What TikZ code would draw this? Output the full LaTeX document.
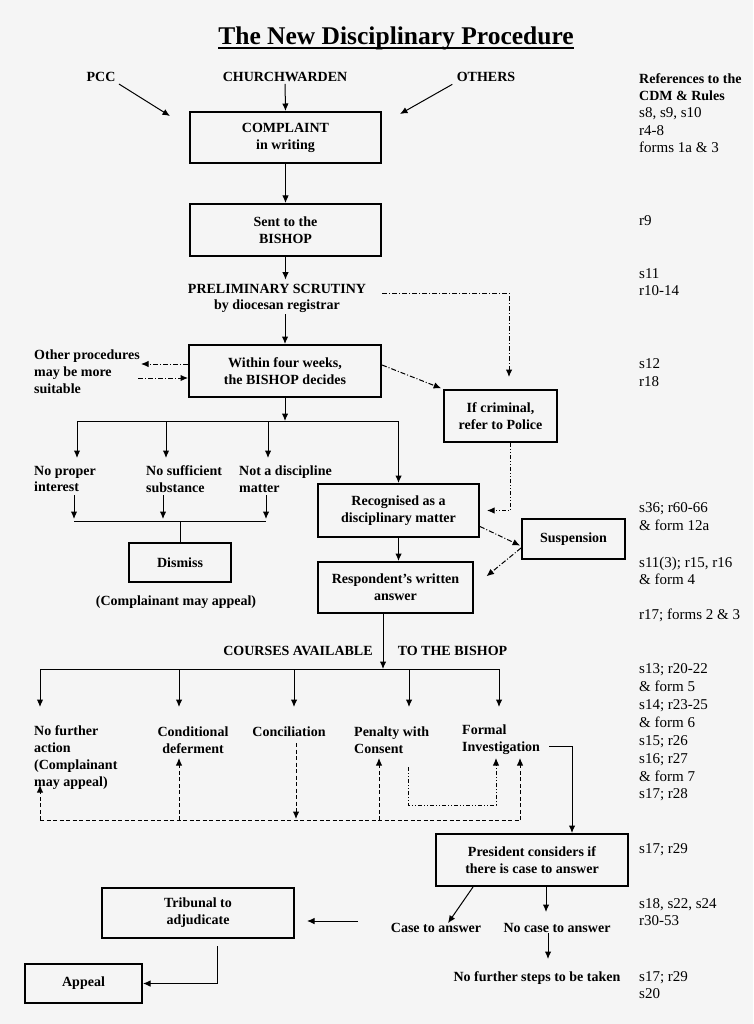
\documentclass[tikz,border=0pt]{standalone}
\usepackage{fontspec}
\setmainfont{Liberation Serif}
\usetikzlibrary{arrows.meta}

\begin{document}
\begin{tikzpicture}[x=1pt,y=-1pt,
    caja/.style={draw,line width=2pt,align=center,inner sep=0pt,font=\bfseries\fontsize{14}{17}\selectfont},
    etiq/.style={align=center,inner sep=0pt,font=\bfseries\fontsize{14}{16.8}\selectfont},
    refs/.style={anchor=west,align=left,inner sep=0pt,font=\fontsize{15}{17.4}\selectfont},
    linea/.style={line width=1pt},
    flecha/.style={linea,-{Latex[length=7.5pt,width=6.5pt]}},
    puntoraya/.style={linea,dash pattern=on 5pt off 2pt on 1pt off 2pt},
    puntopunto/.style={linea,dash pattern=on 4pt off 2pt on 1pt off 2pt on 1pt off 2pt},
    rayas/.style={linea,dash pattern=on 4pt off 2.5pt}]

    % Fondo
    \fill[black!4] (0,0) rectangle (753,1024);
    \useasboundingbox (0,0) rectangle (753,1024);

    % Titulo
    \node[inner sep=0pt,anchor=base,font=\bfseries\fontsize{25.5}{30}\selectfont] (titulo) at (396,45) {The New Disciplinary Procedure};
    \draw[line width=1.5pt] ([yshift=-3pt]titulo.base west) -- ([yshift=-3pt]titulo.base east);

    % Quien presenta la queja
    \node[etiq] (pcc) at (101,77) {PCC};
    \node[etiq] (church) at (285,77) {CHURCHWARDEN};
    \node[etiq] (otros) at (486,77) {OTHERS};

    % Cajas
    \node[caja,minimum width=191pt,minimum height=51pt] (queja) at (285.5,137.5) {COMPLAINT\\in writing};
    \node[caja,minimum width=191pt,minimum height=52pt] (obispo) at (285.5,230) {Sent to the\\BISHOP};
    \node[etiq,font=\bfseries\fontsize{14}{16}\selectfont] (escrutinio) at (277,298) {PRELIMINARY SCRUTINY\\by diocesan registrar};
    \node[caja,minimum width=192pt,minimum height=52pt] (decide) at (285,371) {Within four weeks,\\the BISHOP decides};
    \node[caja,minimum width=113pt,minimum height=52pt] (policia) at (500.5,416) {If criminal,\\refer to Police};
    \node[caja,minimum width=161pt,minimum height=53pt] (reconocido) at (398.5,510.5) {Recognised as a\\disciplinary matter};
    \node[caja,minimum width=103pt,minimum height=40pt] (suspension) at (573.5,539) {Suspension};
    \node[caja,minimum width=102pt,minimum height=39pt] (despedir) at (180,562.5) {Dismiss};
    \node[caja,minimum width=155pt,minimum height=51pt] (respuesta) at (395.5,587.5) {Respondent’s written\\answer};
    \node[caja,minimum width=192pt,minimum height=52pt] (presidente) at (532,860) {President considers if\\there is case to answer};
    \node[caja,minimum width=192pt,minimum height=50pt] (tribunal) at (198,913) {Tribunal to\\adjudicate};
    \node[caja,minimum width=117pt,minimum height=39pt] (apelacion) at (83.5,983.5) {Appeal};

    % Etiquetas
    \node[etiq,anchor=west,align=left] (otrosproc) at (34,372) {Other procedures\\may be more\\suitable};
    \node[etiq,anchor=west,align=left] (sininteres) at (34,479) {No proper\\interest};
    \node[etiq,anchor=west,align=left] (sinsustancia) at (146,479) {No sufficient\\substance};
    \node[etiq,anchor=west,align=left] (nodisciplina) at (239,479) {Not a discipline\\matter};
    \node[etiq] (apela1) at (176,602) {(Complainant may appeal)};
    \node[etiq] (cursos1) at (298,651) {COURSES AVAILABLE};
    \node[etiq] (cursos2) at (452.5,651) {TO THE BISHOP};
    \node[etiq,anchor=west,align=left] (sinaccion) at (34,757.5) {No further\\action\\(Complainant\\may appeal)};
    \node[etiq] (condicional) at (193,740) {Conditional\\deferment};
    \node[etiq] (conciliacion) at (289,732) {Conciliation};
    \node[etiq,anchor=west,align=left] (pena) at (354,740) {Penalty with\\Consent};
    \node[etiq,anchor=west,align=left] (formal) at (462,740) {Formal\\Investigation};
    \node[etiq] (caso) at (436,928) {Case to answer};
    \node[etiq] (nocaso) at (557,928) {No case to answer};
    \node[etiq] (nomas) at (537,978) {No further steps to be taken};

    % Referencias
    \node[refs] (ref1) at (639,113) {{\bfseries\fontsize{14}{17.4}\selectfont References to the}\\{\bfseries\fontsize{14}{17.4}\selectfont CDM \& Rules}\\s8, s9, s10\\r4-8\\forms 1a \& 3};
    \node[refs] (ref2) at (639,221) {r9};
    \node[refs] (ref3) at (639,282) {s11\\r10-14};
    \node[refs] (ref4) at (639,372.5) {s12\\r18};
    \node[refs] (ref5) at (639,516.5) {s36; r60-66\\\& form 12a};
    \node[refs] (ref6) at (639,571) {s11(3); r15, r16\\\& form 4};
    \node[refs] (ref7) at (639,615) {r17; forms 2 \& 3};
    \node[refs,font=\fontsize{15}{17.9}\selectfont] (ref8) at (639,732.5) {s13; r20-22\\\& form 5\\s14; r23-25\\\& form 6\\s15; r26\\s16; r27\\\& form 7\\s17; r28};
    \node[refs] (ref9) at (639,850) {s17; r29};
    \node[refs] (ref10) at (639,912) {s18, s22, s24\\r30-53};
    \node[refs] (ref11) at (639,985) {s17; r29\\s20};

    % Puntos libres
    \coordinate (pccfin) at (170,116);
    \coordinate (otrosfin) at (400,114);
    \coordinate (esq1) at (509,293);
    \coordinate (op1) at (141,364);
    \coordinate (op2) at (138,378);
    \coordinate (barra1) at (77,421);
    \coordinate (barra2) at (74,521);
    \coordinate (r3) at (383,669);
    \coordinate (lazo) at (40,820);
    \coordinate (inv) at (549,746);
    \coordinate (nc1) at (546,912);
    \coordinate (nc2) at (548,959);
    \coordinate (t1) at (358,921);

    % Conectores superiores
    \draw[flecha,shorten <=4pt] (pcc.south east) -- (pccfin);
    \draw[flecha,shorten <=2pt] (church.south) -- (queja.north);
    \draw[flecha,shorten <=5pt] (otros.south west) -- (otrosfin);
    \draw[flecha] (queja.south) -- (obispo.north);
    \draw[flecha,shorten >=4pt] (obispo.south) -- (obispo.south |- escrutinio.north);
    \draw[flecha,shorten <=2pt] (decide.north |- escrutinio.south) -- (decide.north);
    \draw[flecha,puntoraya,shorten <=16pt,shorten >=12pt] (escrutinio.east |- esq1) -| (policia.north -| esq1);
    \draw[flecha,puntoraya] (decide.west |- op1) -- (op1);
    \draw[flecha,puntoraya] (op2) -- (decide.west |- op2);
    \draw[flecha,puntoraya,shorten >=2pt] ([yshift=6pt]decide.east) -- (policia.north west);

    % Decision del obispo
    \draw[flecha] (decide.south) -- (decide.south |- barra1);
    \draw[flecha] (barra1) -| (reconocido.north);
    \foreach \x in {77,166,268}
        \draw[flecha] (\x,421) -- (\x,458);
    \foreach \x in {74,163,266}
        \draw[flecha] (\x,495) -- (\x,519);
    \draw[linea] (barra2) -- (266,521);
    \draw[linea] (despedir.north |- barra2) -- (despedir.north);

    % Policia y suspension
    \draw[flecha,puntopunto,shorten >=7pt] ([xshift=9.5pt]policia.south) |- (reconocido.east);
    \draw[flecha,puntoraya,shorten >=1pt] ([yshift=-16pt]reconocido.east) -- ([yshift=-7pt]suspension.west);
    \draw[flecha,puntoraya,shorten >=2pt] ([yshift=-9pt]suspension.west) -- ([xshift=11pt,yshift=10pt]respuesta.east);
    \draw[flecha] (reconocido.south) -- (reconocido.south |- respuesta.north);

    % Cursos disponibles
    \draw[flecha] (respuesta.south -| r3) -- (r3);
    \draw[linea] (40,669) -- (499,669);
    \foreach \x in {40,179,294,409,499}
        \draw[flecha] (\x,669) -- (\x,707);

    % Lazo de rayas
    \draw[rayas] (lazo) -- (520,820);
    \foreach \x/\y in {40/785,179/758,379/758,520/758}
        \draw[flecha,rayas] (\x,820) -- (\x,\y);
    \draw[flecha,rayas] (296,743) -- (296,819);
    \draw[flecha,puntopunto] (408,767) -- (408,805) -- (496,805) -- (496,758);

    % Investigacion formal
    \draw[flecha] (inv) -| ([xshift=40pt]presidente.north);
    \draw[flecha] ([xshift=-59pt]presidente.south) -- ([xshift=12pt]caso.north);
    \draw[flecha] (presidente.south -| nc1) -- (nc1);
    \draw[flecha] (nocaso.south -| nc2) -- (nc2);
    \draw[flecha,shorten >=12pt] (t1) -- (tribunal.east |- t1);
    \draw[flecha] ([xshift=19pt,yshift=-7pt]tribunal.south) |- (apelacion.east);
\end{tikzpicture}
\end{document}
